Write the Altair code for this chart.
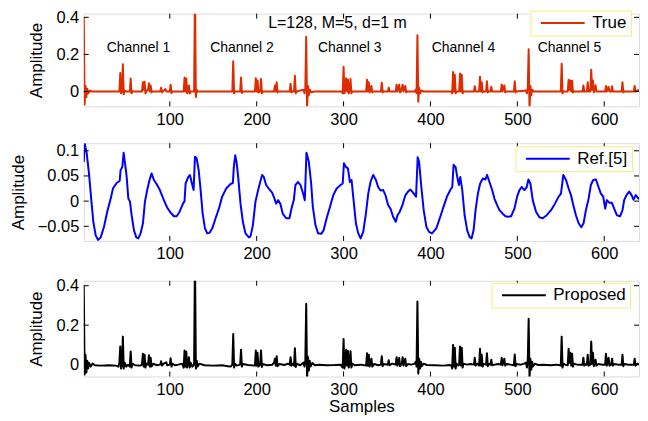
import altair as alt
import pandas as pd

FONT = "Liberation Sans"
W = 557

X_DOMAIN = [1, 640]
X_TICKS = [100, 200, 300, 400, 500, 600]

# ---- Panel 1: True (red) ----
TRUE_POINTS = [
    (1, 0.40), (2, -0.07), (3, 0.03), (4, -0.03), (5, 0.015), (6, -0.01), (8, 0.005), (10, 0.0),
    (42, 0.0), (43, 0.10), (44, -0.01), (45, 0.0), (46, 0.147), (47, -0.015), (48, 0.005), (50, 0.0),
    (54, 0.0), (55, 0.07), (56, -0.01), (57, 0.0), (68, 0.0), (69, 0.05), (70, 0.01), (71, 0.053),
    (72, -0.01), (73, 0.0), (75, 0.01), (76, 0.045), (77, 0.0), (78, 0.033), (79, -0.005), (80, 0.0),
    (89, 0.0), (90, 0.02), (91, -0.005), (92, 0.0), (95, 0.013), (96, 0.0), (100, 0.0), (101, 0.037),
    (102, -0.008), (103, 0.0), (116, 0.0), (117, 0.075), (118, 0.0), (119, 0.07), (120, -0.01),
    (121, 0.0), (122, 0.033), (123, -0.01), (124, 0.0), (128, 0.0), (129, 0.55), (130, -0.03),
    (131, 0.01), (132, 0.0), (172, 0.0), (173, 0.163), (174, -0.01), (175, 0.0), (181, 0.0),
    (182, 0.075), (183, -0.008), (184, 0.0), (198, 0.0), (199, 0.072), (200, 0.0), (201, 0.06),
    (202, -0.005), (204, 0.0), (205, 0.067), (206, -0.01), (207, 0.0), (220, 0.0), (221, 0.033),
    (222, 0.0), (223, 0.05), (224, -0.005), (225, 0.0), (238, 0.0), (239, 0.042), (240, -0.005),
    (241, 0.0), (243, 0.0), (244, 0.085), (245, -0.01), (246, 0.0), (254, 0.01), (255, -0.01),
    (256, 0.02), (257, 0.295), (258, -0.09), (259, 0.03), (260, -0.02), (261, 0.01), (263, -0.005),
    (266, 0.0), (298, 0.0), (299, -0.01), (300, 0.133), (301, -0.01), (302, 0.01), (303, 0.072),
    (304, 0.0), (305, 0.065), (306, -0.01), (307, 0.01), (308, 0.067), (309, -0.01), (310, 0.0),
    (326, 0.0), (327, 0.063), (328, 0.0), (329, 0.05), (330, -0.005), (332, 0.03), (333, -0.005),
    (334, 0.0), (343, 0.0), (344, 0.047), (345, -0.005), (346, 0.0), (351, 0.0), (352, 0.02),
    (353, 0.0), (360, 0.0), (361, 0.037), (362, 0.0), (364, 0.037), (365, -0.005), (366, 0.0),
    (368, 0.037), (369, 0.0), (371, 0.03), (372, -0.005), (373, 0.0), (382, 0.0), (383, 0.01),
    (384, -0.01), (385, 0.303), (386, -0.055), (387, 0.02), (388, -0.01), (390, 0.005), (392, 0.0),
    (424, 0.0), (425, -0.01), (426, 0.105), (427, 0.0), (428, 0.09), (429, -0.01), (430, 0.0),
    (433, 0.0), (434, 0.097), (435, 0.0), (436, 0.09), (437, -0.01), (438, 0.0), (450, 0.0),
    (451, 0.028), (452, 0.0), (456, 0.0), (457, 0.08), (458, 0.0), (459, 0.05), (460, -0.005),
    (461, 0.0), (464, 0.0), (465, 0.055), (466, -0.005), (467, 0.0), (469, 0.0), (470, 0.025),
    (471, 0.0), (481, 0.0), (482, 0.038), (483, 0.0), (485, 0.033), (486, -0.005), (487, 0.0),
    (496, 0.0), (497, 0.055), (498, -0.005), (499, 0.0), (510, 0.005), (511, -0.01), (512, 0.02),
    (513, 0.228), (514, -0.1), (515, 0.03), (516, -0.02), (517, 0.01), (519, 0.0), (550, 0.0),
    (551, 0.15), (552, -0.01), (553, 0.0), (558, 0.0), (559, 0.063), (560, 0.01), (561, 0.06),
    (562, 0.0), (563, 0.058), (564, -0.005), (565, 0.0), (575, 0.0), (576, 0.033), (577, 0.0),
    (580, 0.0), (581, 0.05), (582, 0.0), (584, 0.0), (585, 0.117), (586, 0.01), (587, 0.06),
    (588, -0.005), (590, 0.033), (591, 0.0), (601, 0.0), (602, 0.03), (603, 0.0), (605, 0.025),
    (606, 0.0), (608, 0.0), (609, 0.028), (610, 0.0), (620, 0.0), (621, 0.05), (622, -0.005),
    (623, 0.0), (634, 0.0), (635, 0.03), (636, 0.0), (638, 0.005), (640, 0.01),
]
TRUE_YDOM = [-0.08, 0.42]
TRUE_YTICKS = [0, 0.2, 0.4]

CH_LABELS = ["Channel 1", "Channel 2", "Channel 3", "Channel 4", "Channel 5"]
CH_X = [64, 183, 307, 438, 560]
CH_Y = [0.232, 0.232, 0.232, 0.232, 0.232]
NOTE_TEXT = ["L=128, M=5, d=1 m"]
NOTE_X = [293]
NOTE_Y = [0.37]

# ---- Panel 2: Ref.[5] (blue) ----
REF_POINTS = [
    (1, 0.078), (2, 0.115), (4.4, 0.095), (7, 0.055), (9.7, 0.002), (12, -0.041), (14.7, -0.068),
    (17.4, -0.077), (20.5, -0.072), (24.3, -0.051), (28, -0.021), (32, 0.005), (34.6, 0.025),
    (38.8, 0.036), (42.3, 0.04), (43.4, 0.062), (45.4, 0.068), (46.9, 0.096), (48.5, 0.075),
    (50.4, 0.048), (52.3, 0.005), (54.2, -0.001), (56.1, -0.028), (58.8, -0.058), (61.5, -0.072),
    (63.8, -0.074), (66.4, -0.064), (69.1, -0.044), (71.4, -0.001), (74, 0.022), (76.7, 0.042),
    (79, 0.055), (81.7, 0.042), (84.8, 0.034), (88.6, 0.022), (93.2, 0.002), (97, -0.013),
    (101, -0.023), (104.8, -0.03), (107.9, -0.03), (111.3, -0.021), (115.2, -0.005), (117, 0.0),
    (118.2, 0.035), (121.3, 0.048), (123.2, 0.052), (125.5, 0.035), (127.4, 0.022), (129, 0.088),
    (130.9, 0.085), (133.2, 0.062), (135.5, 0.022), (137.8, -0.025), (140.5, -0.054), (143.1, -0.064),
    (145.8, -0.063), (148.9, -0.054), (152.7, -0.034), (156.5, -0.015), (160.3, 0.009), (164.9, 0.025),
    (169.9, 0.034), (172.6, 0.036), (173.7, 0.068), (175.3, 0.091), (176.8, 0.078), (178.7, 0.048),
    (181.4, -0.005), (184.1, -0.041), (187.1, -0.064), (191, -0.072), (192.9, -0.07), (195.6, -0.048),
    (198.6, -0.001), (201.3, 0.019), (203.6, 0.035), (206.3, 0.052), (208.2, 0.048), (210.9, 0.032),
    (213.9, 0.025), (217.8, 0.017), (220.5, 0.005), (222.4, -0.005), (224.7, 0.002), (227.4, -0.006),
    (230, -0.025), (233.9, -0.034), (237.7, -0.034), (240, -0.015), (242.7, 0.002), (244.6, 0.032),
    (247.7, 0.038), (250.4, 0.032), (253.4, 0.015), (255.4, 0.002), (257.3, 0.096), (260, 0.078),
    (262.7, 0.035), (264.6, -0.011), (267.7, -0.048), (270.7, -0.064), (274.2, -0.065), (277, -0.058),
    (280.5, -0.034), (284.4, -0.011), (288.2, 0.012), (292, 0.025), (296.6, 0.032), (299, 0.035),
    (300.4, 0.075), (302.7, 0.068), (305, 0.065), (307.3, 0.038), (309.2, 0.042), (311.1, 0.009),
    (314.2, -0.044), (316.9, -0.064), (319.6, -0.074), (322.6, -0.061), (325.7, -0.025), (328.4, 0.015),
    (331, 0.038), (334.1, 0.052), (337.2, 0.042), (339.8, 0.028), (342.5, 0.021), (345.6, 0.022),
    (348.2, 0.012), (351.3, -0.008), (354, -0.015), (357, -0.031), (360.1, -0.041), (362, -0.028),
    (364.7, -0.021), (367.7, -0.008), (371.2, 0.012), (374.2, 0.019), (376.9, 0.023), (380, 0.017),
    (383.4, 0.009), (385.3, 0.087), (386.9, 0.078), (389.5, 0.028), (392.2, -0.018), (395.3, -0.051),
    (398.3, -0.061), (401.8, -0.064), (406.7, -0.054), (411.3, -0.031), (415.1, -0.011), (419, 0.009),
    (422.8, 0.022), (425.1, 0.028), (426.6, 0.072), (428.9, 0.068), (430.8, 0.048), (432.8, 0.032),
    (434.3, 0.048), (436.6, 0.022), (439.3, -0.028), (442.3, -0.058), (445, -0.071), (447.3, -0.074),
    (449.6, -0.058), (451.9, -0.018), (454.6, 0.015), (457.2, 0.035), (460.3, 0.045), (463.3, 0.043),
    (465.2, 0.052), (467.9, 0.038), (471, 0.022), (473.6, 0.005), (476.7, -0.008), (479.4, -0.018),
    (483.2, -0.025), (486.3, -0.03), (489.3, -0.031), (492.8, -0.03), (496.6, -0.015), (499.7, 0.009),
    (502.4, 0.022), (505, 0.028), (508.1, 0.022), (510.8, 0.028), (512.7, 0.043), (515, 0.035),
    (517.7, 0.002), (521.5, -0.021), (525.3, -0.032), (529.2, -0.034), (533.8, -0.028), (538.7, -0.018),
    (543.3, -0.005), (547.5, 0.009), (550.2, 0.015), (552.9, 0.052), (556, 0.042), (559, 0.025),
    (561.7, 0.012), (564.4, -0.008), (567.4, -0.028), (570.5, -0.044), (573.6, -0.052), (576.2, -0.044),
    (578.9, -0.018), (582, 0.005), (584.6, 0.032), (587.3, 0.042), (590.4, 0.043), (593.4, 0.028),
    (596.1, 0.015), (598.8, 0.009), (601.1, -0.015), (603, 0.002), (605.7, -0.003), (608.7, -0.003),
    (611.4, -0.015), (614.5, -0.028), (618.3, -0.03), (621, -0.018), (622.9, 0.002), (625.6, 0.012),
    (628.7, 0.019), (631.4, 0.012), (633.7, 0.003), (636.3, 0.012), (639.4, 0.005), (640, 0.008),
]
REF_YDOM = [-0.079, 0.115]
REF_YTICKS = [-0.05, 0, 0.05, 0.1]

# ---- Panel 3: Proposed (black) ----
PROP_POINTS = [
    (1, 0.40), (2, -0.05), (3, 0.05), (4, -0.04), (5, 0.02), (6, -0.02), (7, 0.01), (9, -0.01),
    (11, 0.005), (14, -0.003), (20, -0.005), (30, -0.003), (38, -0.005), (41, -0.01), (42, 0.01),
    (43, 0.092), (44, -0.02), (45, 0.0), (46, 0.142), (47, -0.02), (48, 0.01), (50, -0.01), (52, 0.0),
    (54, -0.01), (55, 0.067), (56, -0.015), (57, 0.005), (60, -0.003), (66, -0.005), (68, 0.0),
    (69, 0.055), (70, -0.01), (71, 0.05), (72, -0.015), (73, 0.005), (75, 0.0), (76, 0.047),
    (77, -0.01), (78, 0.035), (79, -0.01), (81, 0.005), (85, -0.003), (89, 0.0), (90, 0.017),
    (91, -0.005), (93, 0.005), (96, 0.012), (97, -0.003), (100, 0.0), (101, 0.032), (102, -0.01),
    (103, 0.005), (106, -0.003), (110, 0.0), (114, 0.005), (116, -0.015), (117, 0.072), (118, -0.01),
    (119, 0.065), (120, -0.015), (121, 0.005), (122, 0.038), (123, -0.015), (124, 0.01), (126, -0.01),
    (128, 0.0), (129, 0.55), (130, -0.02), (131, 0.02), (132, -0.01), (134, 0.005), (140, -0.003),
    (150, -0.005), (160, -0.003), (167, -0.008), (170, -0.01), (172, 0.0), (173, 0.155), (174, -0.015),
    (175, 0.005), (177, -0.005), (181, 0.0), (182, 0.075), (183, -0.01), (184, 0.003), (190, -0.002),
    (198, -0.005), (199, 0.072), (200, -0.005), (201, 0.06), (202, -0.01), (204, 0.0), (205, 0.072),
    (206, -0.012), (207, 0.003), (212, -0.003), (218, 0.0), (220, 0.01), (221, 0.03), (222, -0.005),
    (223, 0.043), (224, -0.008), (226, 0.003), (232, -0.002), (236, 0.005), (238, 0.0), (239, 0.038),
    (240, -0.005), (242, 0.005), (243, -0.005), (244, 0.083), (245, -0.012), (246, 0.005), (250, -0.003),
    (254, 0.01), (255, -0.01), (256, 0.02), (257, 0.308), (258, -0.07), (259, 0.04), (260, -0.03),
    (261, 0.02), (262, -0.01), (264, 0.008), (267, -0.003), (272, 0.0), (280, -0.003), (290, -0.002),
    (297, 0.0), (298, -0.01), (299, -0.015), (300, 0.13), (301, -0.02), (302, 0.01), (303, 0.075),
    (304, -0.005), (305, 0.07), (306, -0.015), (307, 0.01), (308, 0.068), (309, -0.015), (310, 0.005),
    (313, -0.003), (320, 0.0), (326, -0.005), (327, 0.058), (328, -0.005), (329, 0.05), (330, -0.01),
    (331, 0.01), (332, 0.03), (333, -0.01), (335, 0.003), (340, -0.003), (343, 0.0), (344, 0.043),
    (345, -0.008), (346, 0.003), (351, 0.0), (352, 0.022), (353, -0.003), (356, 0.005), (360, 0.0),
    (361, 0.038), (362, -0.005), (363, 0.01), (364, 0.035), (365, -0.008), (367, 0.005), (368, 0.038),
    (369, -0.005), (371, 0.03), (372, -0.008), (374, 0.003), (378, 0.0), (382, 0.005), (383, 0.015),
    (384, -0.01), (385, 0.32), (386, -0.045), (387, 0.03), (388, -0.02), (389, 0.015), (390, -0.008),
    (392, 0.005), (396, -0.002), (405, -0.003), (415, -0.005), (422, -0.002), (424, -0.005),
    (425, -0.02), (426, 0.1), (427, -0.01), (428, 0.085), (429, -0.02), (430, 0.005), (432, -0.005),
    (433, 0.0), (434, 0.092), (435, -0.005), (436, 0.085), (437, -0.015), (438, 0.005), (442, 0.0),
    (446, 0.003), (450, 0.0), (451, 0.035), (452, -0.005), (454, 0.005), (456, -0.005), (457, 0.08),
    (458, -0.005), (459, 0.05), (460, -0.01), (461, 0.003), (464, 0.0), (465, 0.058), (466, -0.008),
    (467, 0.003), (469, 0.0), (470, 0.025), (471, -0.003), (474, 0.0), (478, 0.003), (481, 0.0),
    (482, 0.035), (483, -0.003), (485, 0.03), (486, -0.005), (488, 0.003), (492, 0.0), (496, -0.003),
    (497, 0.052), (498, -0.008), (499, 0.003), (504, 0.0), (508, 0.005), (510, 0.01), (511, -0.015),
    (512, 0.02), (513, 0.233), (514, -0.07), (515, 0.03), (516, -0.025), (517, 0.015), (518, -0.01),
    (520, 0.005), (524, -0.002), (530, 0.0), (538, -0.003), (545, 0.0), (549, -0.003), (550, -0.005),
    (551, 0.142), (552, -0.015), (553, 0.005), (555, 0.0), (558, -0.003), (559, 0.08), (560, 0.01),
    (561, 0.06), (562, -0.005), (563, 0.055), (564, -0.01), (565, 0.005), (569, 0.0), (575, 0.0),
    (576, 0.035), (577, -0.005), (579, 0.003), (580, 0.0), (581, 0.05), (582, -0.005), (584, 0.0),
    (585, 0.117), (586, 0.005), (587, 0.06), (588, -0.008), (590, 0.025), (591, -0.005), (593, 0.003),
    (598, 0.0), (601, 0.0), (602, 0.055), (603, -0.005), (605, 0.035), (606, -0.005), (608, 0.0),
    (609, 0.03), (610, -0.005), (612, 0.003), (616, 0.0), (620, 0.0), (621, 0.05), (622, -0.008),
    (623, 0.003), (628, 0.0), (634, 0.0), (635, 0.03), (636, -0.005), (638, 0.005), (640, 0.0),
]
PROP_YDOM = [-0.06, 0.425]
PROP_YTICKS = [0, 0.2, 0.4]

TICK_LEN = 5
# wide horizontal stroke used as the legend's line sample
LEGEND_LINE = "M-3,0L3,0"


def panel(points, name, color, ydom, yticks, height, leg_x, leg_y, show_xtitle,
          extra_layers=()):
    df = pd.DataFrame(points, columns=["sample", "amp"])
    df["series"] = name
    xscale = alt.Scale(domain=X_DOMAIN, nice=False, zero=False)
    yscale = alt.Scale(domain=ydom, nice=False, zero=False)
    x_axis_kw = dict(values=X_TICKS, tickCount=20, format="d", ticks=False, domain=False,
                     grid=False, labelPadding=5, labelFontSize=16.5, labelFont=FONT,
                     labelColor="black", labelOverlap=False,
                     titleFont=FONT, titleFontSize=17, titleFontWeight="normal",
                     titleColor="black", titlePadding=1)
    x_axis_kw["title"] = "Samples" if show_xtitle else None
    x_axis = alt.Axis(**x_axis_kw)
    y_axis = alt.Axis(values=yticks, tickCount=10, format="~g", ticks=False, domain=False,
                      grid=False, labelPadding=5, labelFontSize=16.5, labelFont=FONT,
                      labelColor="black", labelOverlap=False,
                      title="Amplitude", titleFont=FONT, titleFontSize=17,
                      titleFontWeight="normal", titleColor="black", titlePadding=10)
    line = alt.Chart(df).mark_line(clip=True, strokeWidth=2, strokeJoin="round").encode(
        x=alt.X("sample:Q", scale=xscale, axis=x_axis),
        y=alt.Y("amp:Q", scale=yscale, axis=y_axis),
        color=alt.Color("series:N", scale=alt.Scale(domain=[name], range=[color]),
                        legend=alt.Legend(title=None, orient="none", legendX=leg_x, legendY=leg_y,
                                          symbolType=LEGEND_LINE, symbolSize=215,
                                          symbolOffset=20,
                                          symbolStrokeWidth=2, labelFontSize=17, labelFont=FONT,
                                          labelColor="black", labelOffset=21,
                                          fillColor="white", strokeColor="#f2ee80",
                                          padding=4)),
    )
    xt = pd.DataFrame({"sample": X_TICKS})
    yt = pd.DataFrame({"amp": yticks})
    xs = alt.X("sample:Q", scale=xscale)
    ys = alt.Y("amp:Q", scale=yscale)
    tick_b = alt.Chart(xt).mark_rule(color="black", strokeWidth=1).encode(
        x=xs, y=alt.value(height - TICK_LEN), y2=alt.value(height))
    tick_t = alt.Chart(xt).mark_rule(color="black", strokeWidth=1).encode(
        x=xs, y=alt.value(0), y2=alt.value(TICK_LEN))
    tick_l = alt.Chart(yt).mark_rule(color="black", strokeWidth=1).encode(
        y=ys, x=alt.value(0), x2=alt.value(TICK_LEN))
    tick_r = alt.Chart(yt).mark_rule(color="black", strokeWidth=1).encode(
        y=ys, x=alt.value(W - TICK_LEN), x2=alt.value(W))
    layers = [line, tick_b, tick_t, tick_l, tick_r]
    for mk in extra_layers:
        layers.append(mk(xscale, yscale))
    return alt.layer(*layers).properties(width=W, height=height)


def channel_text(xscale, yscale):
    df = pd.DataFrame({"sample": CH_X, "amp": CH_Y, "label": CH_LABELS})
    return alt.Chart(df).mark_text(font=FONT, fontSize=14, color="black", align="center",
                                   baseline="middle").encode(
        x=alt.X("sample:Q", scale=xscale),
        y=alt.Y("amp:Q", scale=yscale),
        text="label:N")


def note_text(xscale, yscale):
    df = pd.DataFrame({"sample": NOTE_X, "amp": NOTE_Y, "label": NOTE_TEXT})
    return alt.Chart(df).mark_text(font=FONT, fontSize=16, color="black", align="center",
                                   baseline="middle").encode(
        x=alt.X("sample:Q", scale=xscale),
        y=alt.Y("amp:Q", scale=yscale),
        text="label:N")


p1 = panel(TRUE_POINTS, "True", "#dc2c00", TRUE_YDOM, TRUE_YTICKS, 93, 448, -3, False,
           extra_layers=(channel_text, note_text))
p2 = panel(REF_POINTS, "Ref.[5]", "#0000ff", REF_YDOM, REF_YTICKS, 98, 433, 3, False)
p3 = panel(PROP_POINTS, "Proposed", "#000000", PROP_YDOM, PROP_YTICKS, 96, 409, 2, True)

chart = alt.vconcat(p1, p2, p3, spacing=14).resolve_scale(
    y="independent", color="independent"
).resolve_legend(color="independent").properties(
    padding={"left": 0, "top": 0, "right": 0, "bottom": 0}
).configure_view(stroke="black", strokeWidth=1).configure_axis(
    labelOverlap=False
).configure(background="white")

chart.save("out.html", embed_options={"renderer": "svg", "actions": False})
